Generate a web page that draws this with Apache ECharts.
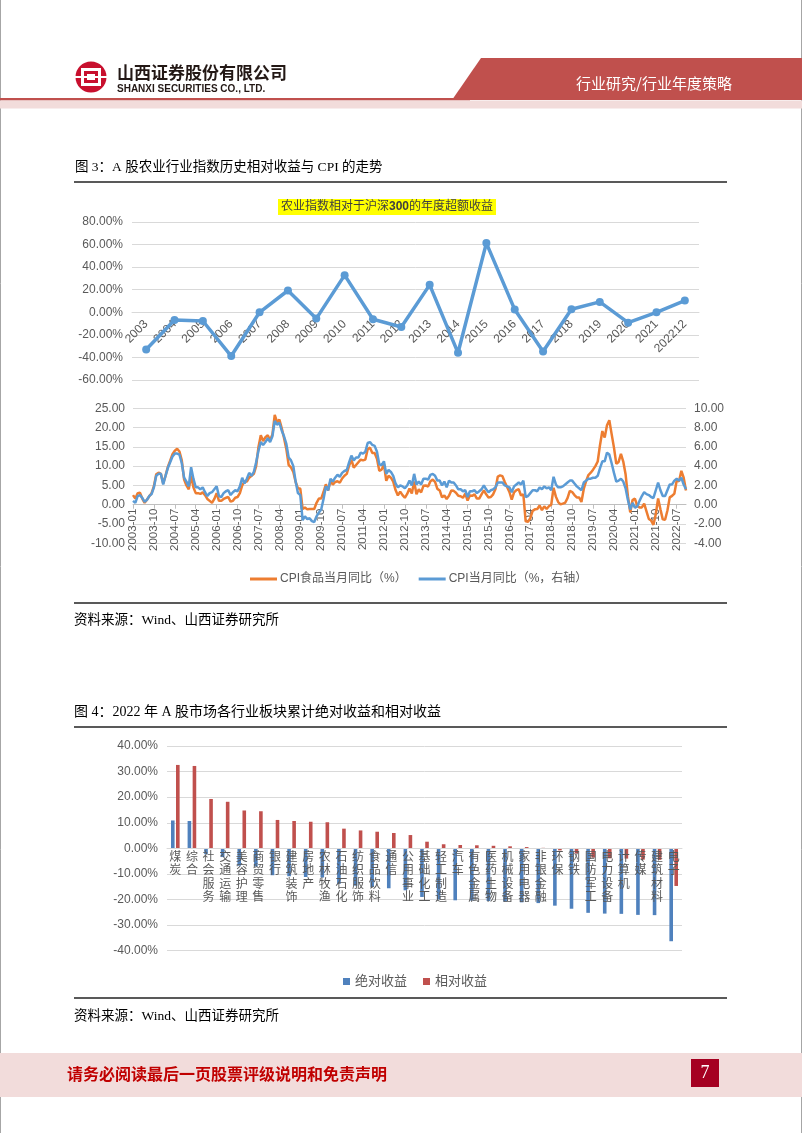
<!DOCTYPE html>
<html><head><meta charset="utf-8">
<script src="https://cdn.jsdelivr.net/npm/echarts@6.0.0/dist/echarts.min.js"></script>
<style>html,body{margin:0;padding:0;background:#fff}#c{width:802px;height:1133px}</style>
</head><body><div id="c"></div>
<script>
// ---- Chart A: agriculture index excess return vs CSI300 (%) ----
const years = ['2003','2004','2005','2006','2007','2008','2009','2010','2011','2012','2013','2014','2015','2016','2017','2018','2019','2020','2021','202212'];
const excessReturn = [-32.9,-6.8,-7.7,-38.8,0.0,19.3,-5.6,32.9,-6.2,-13.0,24.3,-35.9,61.3,2.4,-34.7,2.7,9.2,-9.2,0.0,10.4];

// ---- Chart B: CPI food yoy (left axis) and CPI yoy (right axis), 2003-01 .. 2022-11 ----
const cpiFood = [
 2.5,1.6,3.0,3.1,1.6,0.5,1.3,2.2,3.0,4.8,7.9,8.3,
 8.0,5.5,7.5,9.8,11.4,13.1,14.0,14.5,13.8,11.5,6.5,5.0,
 4.0,7.5,4.5,3.0,3.0,2.8,3.2,2.5,1.5,1.0,0.5,1.5,
 3.0,1.0,1.0,1.5,1.8,2.0,0.8,1.0,1.8,2.0,3.0,5.0,
 6.0,6.0,7.0,7.5,8.0,10.0,15.0,18.0,16.5,17.5,18.0,16.7,
 18.2,23.3,21.4,22.1,19.9,17.3,14.4,10.3,9.7,8.5,5.9,4.2,
 4.2,-1.1,-0.7,-1.2,-1.1,-1.1,-1.1,0.5,1.6,1.6,3.3,5.3,
 3.7,6.2,5.2,5.9,6.1,5.7,6.8,7.5,8.0,10.1,11.7,9.6,
 10.3,11.0,11.7,11.5,11.7,14.4,14.8,13.4,13.4,11.9,8.8,9.1,
 10.5,6.2,7.5,7.0,6.0,3.8,2.4,3.4,2.5,1.8,2.8,4.2,
 2.9,6.0,2.7,4.0,3.2,4.9,5.0,4.7,6.1,6.5,5.9,4.1,
 3.7,1.9,2.4,1.5,2.3,3.7,3.6,3.1,2.3,2.2,1.8,2.9,
 1.1,2.4,2.3,2.7,1.6,1.6,2.7,3.7,2.7,1.9,2.0,2.7,
 4.1,7.3,7.6,7.4,5.9,4.6,3.3,1.3,3.2,3.8,4.0,2.4,
 2.7,-4.3,-4.4,-3.5,-1.6,-1.2,-1.1,-0.2,-1.4,-0.4,-1.1,-0.4,
 0.0,4.4,2.1,0.7,0.1,0.3,0.5,1.7,3.6,3.3,2.5,1.9,
 1.9,0.7,4.1,6.1,7.7,8.3,9.1,10.0,11.2,15.5,19.1,17.4,
 20.6,21.9,18.3,14.8,10.6,11.1,13.2,11.2,7.9,2.2,-2.0,1.2,
 1.6,-0.2,-0.7,-0.7,0.3,-1.7,-3.7,-4.1,-5.2,-2.4,1.6,-1.2,
 -3.8,-3.9,-1.5,1.9,2.3,2.9,6.3,6.1,8.8,7.0,3.7
];
const cpiAll = [
 0.4,0.2,0.9,1.0,0.7,0.3,0.5,0.9,1.1,1.8,3.0,3.2,
 3.2,2.1,3.0,3.8,4.4,5.0,5.3,5.3,5.2,4.3,2.8,2.4,
 1.9,3.9,2.7,1.8,1.8,1.6,1.8,1.3,0.9,1.2,1.3,1.6,
 1.9,0.9,0.8,1.2,1.4,1.5,1.0,1.3,1.5,1.4,1.9,2.8,
 2.2,2.7,3.3,3.0,3.4,4.4,5.6,6.5,6.2,6.5,6.9,6.5,
 7.1,8.7,8.3,8.5,7.7,7.1,6.3,4.9,4.6,4.0,2.4,1.2,
 1.0,-1.6,-1.2,-1.5,-1.4,-1.7,-1.8,-1.2,-0.8,-0.5,0.6,1.9,
 1.5,2.7,2.4,2.8,3.1,2.9,3.3,3.5,3.6,4.4,5.1,4.6,
 4.9,4.9,5.4,5.3,5.5,6.4,6.5,6.2,6.1,5.5,4.2,4.1,
 4.5,3.2,3.6,3.4,3.0,2.2,1.8,2.0,1.9,1.7,2.0,2.5,
 2.0,3.2,2.1,2.4,2.1,2.7,2.7,2.6,3.1,3.2,3.0,2.5,
 2.5,2.0,2.4,1.8,2.5,2.3,2.3,2.0,1.6,1.6,1.4,1.5,
 0.8,1.4,1.4,1.5,1.2,1.4,1.6,2.0,1.6,1.3,1.5,1.6,
 1.8,2.3,2.3,2.3,2.0,1.9,1.8,1.3,1.9,2.1,2.3,2.1,
 2.5,0.8,0.9,1.2,1.5,1.5,1.4,1.8,1.6,1.9,1.7,1.8,
 1.5,2.9,2.1,1.8,1.8,1.9,2.1,2.3,2.5,2.5,2.2,1.9,
 1.7,1.5,2.3,2.5,2.7,2.7,2.8,2.8,3.0,3.8,4.5,4.5,
 5.4,5.2,4.3,3.3,2.4,2.5,2.7,2.4,1.7,0.5,-0.5,0.2,
 -0.3,-0.2,0.4,0.9,1.3,1.1,1.0,0.8,0.7,1.5,2.3,1.5,
 0.9,0.9,1.5,2.1,2.1,2.5,2.7,2.5,2.8,2.1,1.6
];
const months = [];
for (let y = 2003; y <= 2022; y++) for (let m = 1; m <= 12; m++) {
  if (months.length < cpiFood.length) months.push(y + '-' + (m < 10 ? '0' + m : m));
}

// ---- Chart C: 2022 industry returns (%) ----
const industries = ['煤炭','综合','社会服务','交通运输','美容护理','商贸零售','银行','建筑装饰','房地产','农林牧渔','石油石化','纺织服饰','食品饮料','通信','公用事业','基础化工','轻工制造','汽车','有色金属','医药生物','机械设备','家用电器','非银金融','环保','钢铁','国防军工','电力设备','计算机','传媒','建筑材料','电子'];
const absReturn = [10.9,10.7,-2.3,-3.4,-6.8,-7.1,-10.5,-10.9,-11.2,-11.4,-13.9,-14.6,-15.1,-15.6,-16.4,-19.0,-20.0,-20.3,-20.4,-20.6,-20.8,-21.1,-21.4,-22.4,-23.6,-25.2,-25.5,-25.6,-26.0,-26.1,-36.3];
const relReturn = [32.6,32.2,19.3,18.2,14.8,14.5,11.1,10.7,10.4,10.2,7.7,7.0,6.5,6.0,5.2,2.6,1.6,1.3,1.2,1.0,0.8,0.5,0.2,-0.8,-2.0,-3.6,-3.9,-4.0,-4.4,-4.5,-14.7];

const SANS = '"Liberation Sans", Arial, "Noto Sans CJK SC", sans-serif';
const CJK = '"Liberation Serif", "Noto Sans CJK SC", serif';
const GREY = '#595959';
const RED = '#C0504D';

// grid geometry (layout only)
const G1 = {left: 132, top: 222, width: 567, height: 158};
const G2 = {left: 133, top: 408.3, width: 553, height: 135};
const G3 = {left: 167, top: 746, width: 515, height: 204.7};
const Y1 = {min: -60, max: 80}, Y2 = {min: -10, max: 25}, Y3 = {min: -40, max: 40};
function zeroOffset(g, y) { return -(g.height * (0 - y.min) / (y.max - y.min)); }

const chart = echarts.init(document.getElementById('c'), null, {renderer: 'canvas'});

function t(text, x, y, font, fill, align, vAlign) {
  return {type: 'text', silent: true, style: {text, x, y, font, fill: fill || '#000', align: align || 'left', verticalAlign: vAlign || 'middle'}};
}
function hline(x1, x2, y, w, color) {
  return {type: 'line', silent: true, shape: {x1, y1: y, x2, y2: y}, style: {stroke: color, lineWidth: w}};
}

const graphics = [
  // page edges
  {type: 'line', silent: true, shape: {x1: 0.5, y1: 0, x2: 0.5, y2: 1133}, style: {stroke: '#a6a6a6', lineWidth: 1}},
  {type: 'line', silent: true, shape: {x1: 801.5, y1: 0, x2: 801.5, y2: 1133}, style: {stroke: '#a6a6a6', lineWidth: 1}},
  // header
  {type: 'circle', shape: {cx: 91, cy: 77, r: 15.5}, style: {fill: '#C8102E'}},
  {type: 'rect', shape: {x: 81, y: 68, width: 20, height: 18}, style: {fill: '#fff'}},
  {type: 'rect', shape: {x: 84, y: 71, width: 14, height: 12}, style: {fill: '#C8102E'}},
  {type: 'rect', shape: {x: 87, y: 74, width: 8, height: 6}, style: {fill: '#fff'}},
  {type: 'rect', shape: {x: 75, y: 76, width: 32, height: 2}, style: {fill: '#fff'}},
  t('山西证券股份有限公司', 117, 73, 'bold 17px "Noto Sans CJK SC"', '#231815'),
  t('SHANXI SECURITIES CO., LTD.', 117, 89, 'bold 10px "Liberation Sans"', '#231815'),
  {type: 'polygon', shape: {points: [[481, 58], [802, 58], [802, 100], [452, 100]]}, style: {fill: RED}},
  t('行业研究/行业年度策略', 576, 83, '15px "Noto Sans CJK SC"', '#fff'),
  {type: 'rect', shape: {x: 0, y: 98, width: 470, height: 2.5}, style: {fill: RED}},
  {type: 'rect', shape: {x: 0, y: 100.5, width: 802, height: 8}, style: {fill: '#F2DCDB'}},
  // section 1
  t('图 3：A 股农业行业指数历史相对收益与 CPI 的走势', 75, 167, '13.5px ' + CJK, '#000'),
  hline(74, 727, 182, 2, '#595959'),
  hline(74, 727, 603, 2, '#595959'),
  t('资料来源：Wind、山西证券研究所', 74, 620, '13.5px ' + CJK, '#000'),
  // section 2
  t('图 4：2022 年 A 股市场各行业板块累计绝对收益和相对收益', 74, 712, '14px ' + CJK, '#000'),
  hline(74, 727, 727, 2, '#595959'),
  hline(74, 727, 998, 2, '#595959'),
  t('资料来源：Wind、山西证券研究所', 74, 1016, '13.5px ' + CJK, '#000'),
  // footer
  {type: 'rect', shape: {x: 0, y: 1053, width: 802, height: 44}, style: {fill: '#F2DCDB'}},
  t('请务必阅读最后一页股票评级说明和免责声明', 67, 1074, 'bold 16px "Noto Sans CJK SC"', '#C00000'),
  {type: 'rect', shape: {x: 691, y: 1059, width: 28, height: 28}, style: {fill: '#A50021'}},
  t('7', 705, 1073, '18px "Liberation Serif"', '#fff', 'center')
];

const option = {
  animation: false,
  backgroundColor: '#fff',
  textStyle: {fontFamily: SANS},
  title: [{
    text: '{a|农业指数相对于沪深}{b|300}{a|的年度超额收益}',
    left: 278, top: 199, padding: [2, 3, 2, 3],
    backgroundColor: '#FFFF00',
    textStyle: {fontWeight: 'normal', rich: {
      a: {fontFamily: CJK, fontSize: 12, fontWeight: 'normal', color: '#404040'},
      b: {fontFamily: SANS, fontSize: 12, fontWeight: 'bold', color: '#404040'}
    }}
  }],
  legend: [{
    left: 245, top: 568, itemWidth: 27, itemHeight: 3, itemGap: 12, icon: 'rect',
    data: ['CPI食品当月同比（%）', 'CPI当月同比（%，右轴）'],
    textStyle: {fontSize: 12, color: GREY, fontFamily: SANS, padding: [0, 0, 0, -2]}
  }, {
    left: 338, top: 970, itemWidth: 7, itemHeight: 7, itemGap: 16, icon: 'rect',
    data: ['绝对收益', '相对收益'],
    textStyle: {fontSize: 13, color: GREY, fontFamily: CJK}
  }],
  grid: [G1, G2, G3],
  xAxis: [{
    gridIndex: 0, type: 'category', data: years, boundaryGap: true,
    offset: zeroOffset(G1, Y1),
    axisLine: {onZero: false, lineStyle: {color: '#d9d9d9'}}, axisTick: {show: false},
    axisLabel: {rotate: 45, fontSize: 12, color: GREY, margin: 10, interval: 0}
  }, {
    gridIndex: 1, type: 'category', data: months, boundaryGap: false,
    offset: zeroOffset(G2, Y2),
    axisLine: {onZero: false, lineStyle: {color: '#bfbfbf'}},
    axisTick: {show: true, interval: 8, length: 4, lineStyle: {color: '#bfbfbf'}},
    axisLabel: {rotate: 90, fontSize: 11.5, color: GREY, margin: 4, interval: 8}
  }, {
    gridIndex: 2, type: 'category', data: industries, z: 5,
    offset: zeroOffset(G3, Y3),
    axisLine: {onZero: false, lineStyle: {color: '#d9d9d9'}}, axisTick: {show: false},
    axisLabel: {interval: 0, fontSize: 12, color: GREY, fontFamily: CJK, lineHeight: 13.3, margin: 3,
      formatter: v => v.split('').join('\n')}
  }],
  yAxis: [{
    gridIndex: 0, type: 'value', min: Y1.min, max: Y1.max, interval: 20,
    axisLine: {show: false}, axisTick: {show: false},
    splitLine: {lineStyle: {color: '#d9d9d9'}},
    axisLabel: {fontSize: 12, color: GREY, margin: 9, formatter: v => v.toFixed(2) + '%'}
  }, {
    gridIndex: 1, type: 'value', min: Y2.min, max: Y2.max, interval: 5,
    axisLine: {show: false}, axisTick: {show: false},
    splitLine: {lineStyle: {color: '#d9d9d9'}},
    axisLabel: {fontSize: 12, color: GREY, margin: 8, formatter: v => v.toFixed(2)}
  }, {
    gridIndex: 1, type: 'value', position: 'right', min: -4, max: 10, interval: 2,
    axisLine: {show: false}, axisTick: {show: false}, splitLine: {show: false},
    axisLabel: {fontSize: 12, color: GREY, margin: 8, formatter: v => v.toFixed(2)}
  }, {
    gridIndex: 2, type: 'value', min: Y3.min, max: Y3.max, interval: 10,
    axisLine: {show: false}, axisTick: {show: false},
    splitLine: {lineStyle: {color: '#d9d9d9'}},
    axisLabel: {fontSize: 12, color: GREY, margin: 9, formatter: v => v.toFixed(2) + '%'}
  }],
  series: [{
    type: 'line', xAxisIndex: 0, yAxisIndex: 0, data: excessReturn,
    symbol: 'circle', symbolSize: 8, itemStyle: {color: '#5B9BD5'},
    lineStyle: {color: '#5B9BD5', width: 3.5}
  }, {
    name: 'CPI食品当月同比（%）', type: 'line', xAxisIndex: 1, yAxisIndex: 1, data: cpiFood,
    showSymbol: false, symbol: 'none', itemStyle: {color: '#ED7D31'}, lineStyle: {color: '#ED7D31', width: 2.5}
  }, {
    name: 'CPI当月同比（%，右轴）', type: 'line', xAxisIndex: 1, yAxisIndex: 2, data: cpiAll,
    showSymbol: false, symbol: 'none', itemStyle: {color: '#5B9BD5'}, lineStyle: {color: '#5B9BD5', width: 2.5}
  }, {
    name: '绝对收益', type: 'bar', xAxisIndex: 2, yAxisIndex: 3, data: absReturn,
    barWidth: 3.6, barGap: '40%', itemStyle: {color: '#4F81BD'}
  }, {
    name: '相对收益', type: 'bar', xAxisIndex: 2, yAxisIndex: 3, data: relReturn,
    barWidth: 3.6, barGap: '40%', itemStyle: {color: RED}
  }],
  graphic: {elements: graphics}
};
chart.setOption(option);
</script>
</body></html>
